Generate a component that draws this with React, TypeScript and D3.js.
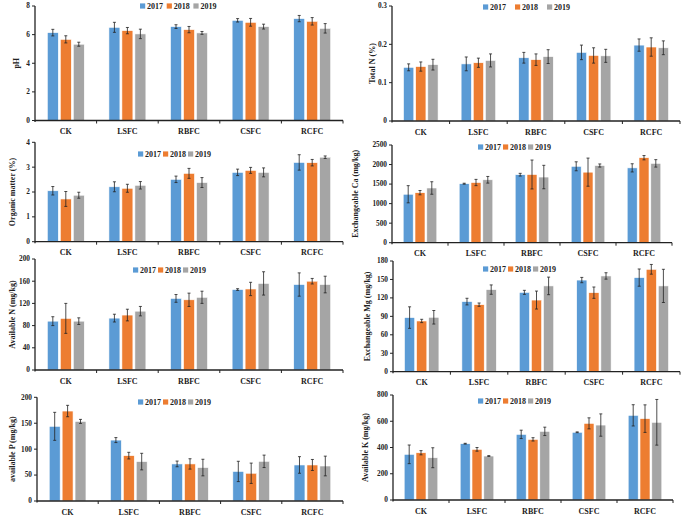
import React from "react";
import * as d3 from "d3";

const categories = ["CK", "LSFC", "RBFC", "CSFC", "RCFC"];
const years = ["2017", "2018", "2019"];

// rows = categories, columns = years
const phMean = [[6.14, 5.67, 5.33], [6.51, 6.28, 6.05], [6.56, 6.35, 6.12], [7.0, 6.86, 6.56], [7.12, 6.93, 6.44]];
const phErr = [[0.23, 0.25, 0.14], [0.35, 0.22, 0.33], [0.13, 0.22, 0.1], [0.12, 0.27, 0.17], [0.22, 0.26, 0.33]];
const phTicks = [0, 2, 4, 6, 8];

const tnMean = [[0.14, 0.142, 0.147], [0.149, 0.152, 0.158], [0.165, 0.16, 0.168], [0.179, 0.171, 0.17], [0.198, 0.193, 0.191]];
const tnErr = [[0.009, 0.012, 0.014], [0.018, 0.012, 0.017], [0.014, 0.015, 0.018], [0.019, 0.02, 0.017], [0.016, 0.024, 0.018]];
const tnTicks = [0, 0.1, 0.2, 0.3];

const omMean = [[2.05, 1.72, 1.87], [2.21, 2.15, 2.27], [2.51, 2.75, 2.38], [2.79, 2.87, 2.79], [3.19, 3.18, 3.4]];
const omErr = [[0.17, 0.3, 0.12], [0.2, 0.16, 0.15], [0.13, 0.2, 0.2], [0.13, 0.12, 0.18], [0.31, 0.13, 0.05]];
const omTicks = [0, 1, 2, 3, 4];

const caMean = [[1240, 1280, 1400], [1510, 1540, 1610], [1740, 1745, 1680], [1955, 1805, 1975], [1915, 2175, 2030]];
const caErr = [[220, 55, 160], [12, 80, 85], [35, 370, 300], [115, 360, 40], [105, 55, 95]];
const caTicks = [0, 500, 1000, 1500, 2000, 2500];

const anMean = [[88, 93, 88], [93.5, 99, 106], [129, 126.5, 131], [145, 146, 156], [154, 160, 154]];
const anErr = [[8, 27, 6], [7, 10.5, 8.5], [7, 12, 11], [1.5, 12, 21], [21, 5, 15]];
const anTicks = [0, 40, 80, 120, 160, 200];

const mgMean = [[88, 82.5, 88.5], [114, 109, 133.5], [129, 116.5, 139.5], [149, 128.5, 155.7], [153, 166.5, 139.5]];
const mgErr = [[17.5, 2.7, 11], [5.4, 2.7, 7.6], [3.3, 14.6, 14.3], [4.3, 9.2, 5.2], [14, 7.9, 27]];
const mgTicks = [0, 30, 60, 90, 120, 150, 180];

const apMean = [[144, 173.5, 153.5], [117.5, 87.5, 76], [71.5, 71.5, 64.5], [57, 53.5, 76.5], [69.5, 69.5, 67.5]];
const apErr = [[27, 11, 3.9], [4.8, 6.4, 16], [5.5, 10, 16], [19.6, 19.6, 12], [16, 10.6, 19]];
const apTicks = [0, 50, 100, 150, 200];

const akMean = [[348, 360, 322], [429, 386, 335], [500, 462, 523], [516, 584, 571], [645, 620, 592]];
const akErr = [[71, 16, 76], [3, 14, 3], [32, 12.7, 32], [3, 42, 85], [81, 105, 174]];
const akTicks = [0, 200, 400, 600, 800];

const yTitles = [
  "pH",
  "Total N (%)",
  "Organic matter (%)",
  "Exchangeable Ca (mg/kg)",
  "Available N (mg/kg)",
  "Exchangeable Mg (mg/kg)",
  "available P (mg/kg)",
  "Available K (mg/kg)",
];

const panels = [
  { mean: phMean, err: phErr, ticks: phTicks },
  { mean: tnMean, err: tnErr, ticks: tnTicks },
  { mean: omMean, err: omErr, ticks: omTicks },
  { mean: caMean, err: caErr, ticks: caTicks },
  { mean: anMean, err: anErr, ticks: anTicks },
  { mean: mgMean, err: mgErr, ticks: mgTicks },
  { mean: apMean, err: apErr, ticks: apTicks },
  { mean: akMean, err: akErr, ticks: akTicks },
];

const layouts = [
  { x0: 35, xEnd: 343, yTop: 6, yBot: 120.5, lx: 140, ly: 6, ls: 26.7, tx: 16 },
  { x0: 392, xEnd: 680, yTop: 6, yBot: 121, lx: 483, ly: 7, ls: 32, tx: 372 },
  { x0: 35, xEnd: 343, yTop: 142.3, yBot: 241.7, lx: 138, ly: 154, ls: 25, tx: 12 },
  { x0: 392, xEnd: 672, yTop: 145, yBot: 242.7, lx: 478, ly: 147, ls: 25, tx: 355 },
  { x0: 35, xEnd: 343, yTop: 259, yBot: 370, lx: 133, ly: 270, ls: 25, tx: 12 },
  { x0: 393, xEnd: 680, yTop: 261, yBot: 371.7, lx: 483, ly: 269, ls: 25, tx: 367 },
  { x0: 37, xEnd: 343, yTop: 397.3, yBot: 501, lx: 138, ly: 402, ls: 25, tx: 12 },
  { x0: 393, xEnd: 673, yTop: 395, yBot: 500, lx: 478, ly: 401, ls: 25, tx: 365 },
];

const colors = ["#5B9BD5", "#ED7D31", "#A5A5A5"];
const FONT = "'Liberation Serif', 'Times New Roman', serif";

function Panel({ idx }: { idx: number }) {
  const p = panels[idx];
  const l = layouts[idx];
  const max = p.ticks[p.ticks.length - 1];
  const x = d3.scaleBand<string>().domain(categories).range([l.x0, l.xEnd]);
  const y = d3.scaleLinear().domain([0, max]).range([l.yBot, l.yTop]);
  const bw = x.bandwidth();
  const x1 = d3.scaleBand<string>().domain(years).range([-bw * 0.3, bw * 0.3]).paddingInner(0.154);
  const midY = (l.yTop + l.yBot) / 2;
  const axisColor = "#222";
  return (
    <g fontFamily={FONT} fontWeight="bold">
      {categories.map((c, ci) =>
        years.map((yr, yi) => {
          const v = p.mean[ci][yi];
          const e = p.err[ci][yi];
          const bx = (x(c) as number) + bw / 2 + (x1(yr) as number);
          const cx = bx + x1.bandwidth() / 2;
          const lo = Math.max(0, v - e);
          return (
            <g key={c + yr}>
              <rect x={bx} y={y(v)} width={x1.bandwidth()} height={l.yBot - y(v)} fill={colors[yi]} stroke="#ffffff" strokeWidth={0.6} />
              <line x1={cx} x2={cx} y1={y(v + e)} y2={y(lo)} stroke="#222" strokeWidth={0.8} />
              <line x1={cx - 1.5} x2={cx + 1.5} y1={y(v + e)} y2={y(v + e)} stroke="#222" strokeWidth={0.8} />
              <line x1={cx - 1.5} x2={cx + 1.5} y1={y(lo)} y2={y(lo)} stroke="#222" strokeWidth={0.8} />
            </g>
          );
        })
      )}
      <line x1={l.x0} x2={l.x0} y1={l.yTop} y2={l.yBot + 1.5} stroke={axisColor} strokeWidth={1.3} />
      {p.ticks.map((t) => (
        <g key={t}>
          <line x1={l.x0 - 3} x2={l.x0} y1={y(t)} y2={y(t)} stroke={axisColor} strokeWidth={1} />
          <text x={l.x0 - 5} y={y(t)} dy="0.33em" textAnchor="end" fontSize={7.3} fill="#222">
            {String(t)}
          </text>
        </g>
      ))}
      <line x1={l.x0} x2={l.xEnd} y1={l.yBot} y2={l.yBot} stroke={axisColor} strokeWidth={1.3} />
      {categories.map((c) => (
        <g key={c}>
          <line x1={(x(c) as number) + bw} x2={(x(c) as number) + bw} y1={l.yBot} y2={l.yBot + 3} stroke={axisColor} strokeWidth={1} />
          <text x={(x(c) as number) + bw / 2} y={l.yBot + 13.5} textAnchor="middle" fontSize={8} fill="#222">
            {c}
          </text>
        </g>
      ))}
      <text transform={`translate(${l.tx},${midY}) rotate(-90)`} textAnchor="middle" dy="0.35em" fontSize={8} fill="#222">
        {yTitles[idx]}
      </text>
      {years.map((yr, yi) => (
        <g key={yr} transform={`translate(${l.lx + yi * l.ls},${l.ly})`}>
          <rect x={0} y={-2.6} width={5.2} height={5.2} fill={colors[yi]} />
          <text x={7} y={0} dy="0.35em" fontSize={8} fill="#222">
            {yr}
          </text>
        </g>
      ))}
    </g>
  );
}

export default function App() {
  return (
    <svg width={685} height={517} style={{ position: "absolute", left: 0, top: 0, background: "#fff" }}>
      <rect width={685} height={517} fill="#fff" />
      {panels.map((_, i) => (
        <Panel key={i} idx={i} />
      ))}
    </svg>
  );
}
